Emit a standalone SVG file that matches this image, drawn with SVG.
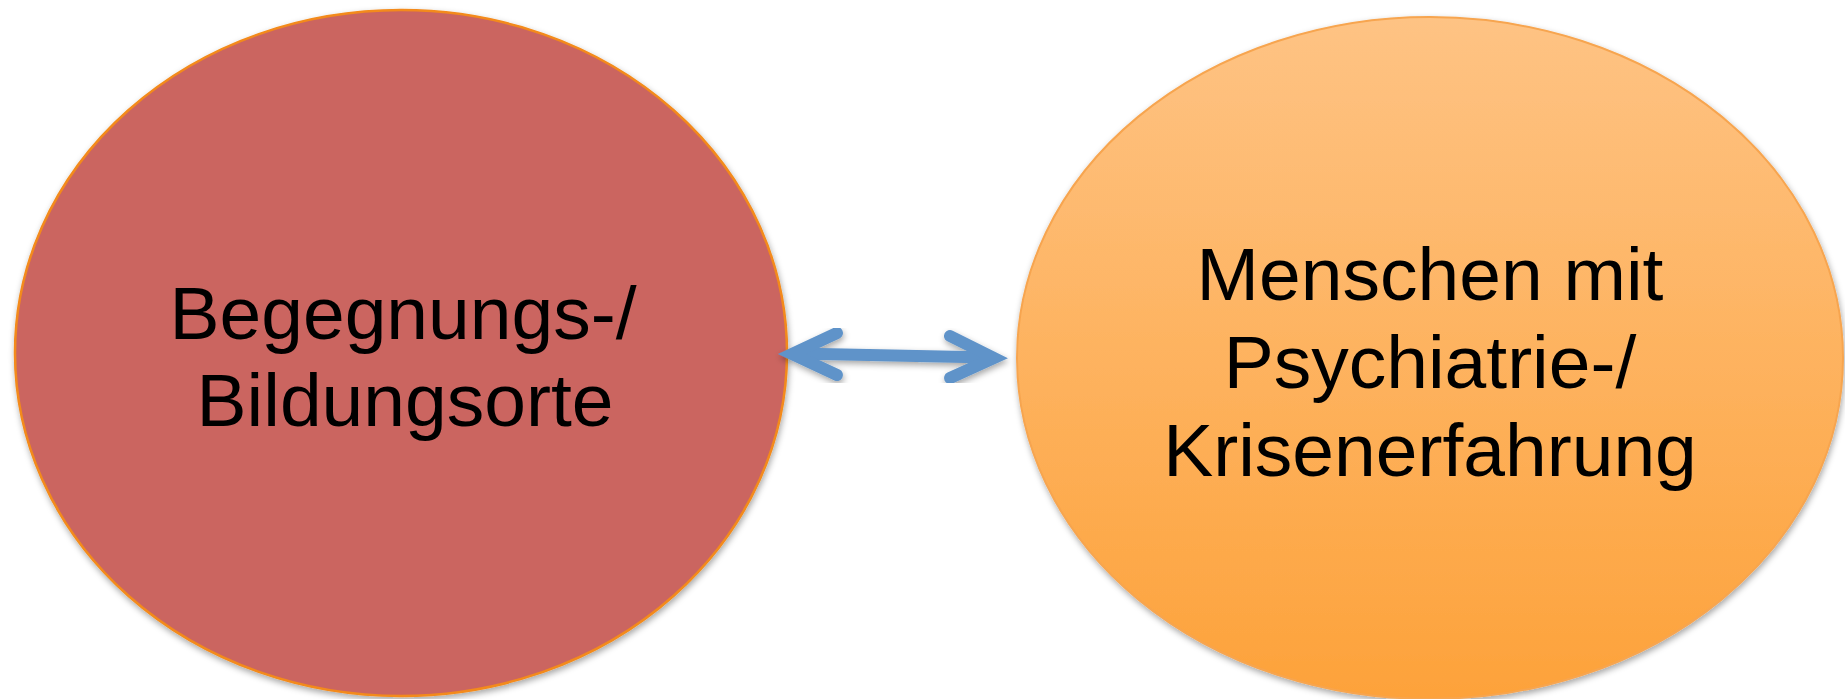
<svg xmlns="http://www.w3.org/2000/svg" width="1845" height="699" viewBox="0 0 1845 699">
<style>
.lbl{font-family:"Liberation Sans",Arial,sans-serif;font-size:75px;fill:#000;text-anchor:middle}
.arr{fill:none;stroke:#5F93C9;stroke-width:12;stroke-linecap:round;stroke-linejoin:miter;stroke-miterlimit:10}
</style>
<defs>
<linearGradient id="og" x1="0" y1="0" x2="0" y2="1">
<stop offset="0" stop-color="#FEC384"/>
<stop offset="1" stop-color="#FDA23A"/>
</linearGradient>
<filter id="sh" x="-10%" y="-10%" width="120%" height="120%">
<feDropShadow dx="1" dy="3" stdDeviation="3" flood-color="#000" flood-opacity="0.35"/>
</filter>
</defs>
<rect width="1845" height="699" fill="#fff"/>
<g id="node-left">
<ellipse cx="401" cy="353" rx="386" ry="343" fill="#CB6560" stroke="#F38A1A" stroke-width="2.5" filter="url(#sh)"/>
<text class="lbl" x="403" y="339">Begegnungs-/</text>
<text class="lbl" x="405" y="426">Bildungsorte</text>
</g>
<g id="node-right">
<ellipse cx="1430" cy="358" rx="413" ry="341" fill="url(#og)" stroke="#F7A54F" stroke-width="2" filter="url(#sh)"/>
<text class="lbl" x="1430" y="300">Menschen mit</text>
<text class="lbl" x="1430" y="388">Psychiatrie-/</text>
<text class="lbl" x="1430" y="476">Krisenerfahrung</text>
</g>
<g id="connectors" filter="url(#sh)">
<path class="arr" d="M796,353.5 L990,357.5"/>
<path class="arr" d="M837,333 L792,354 L837,375"/>
<path class="arr" d="M950,336 L994,358 L950,378"/>
</g>
</svg>
